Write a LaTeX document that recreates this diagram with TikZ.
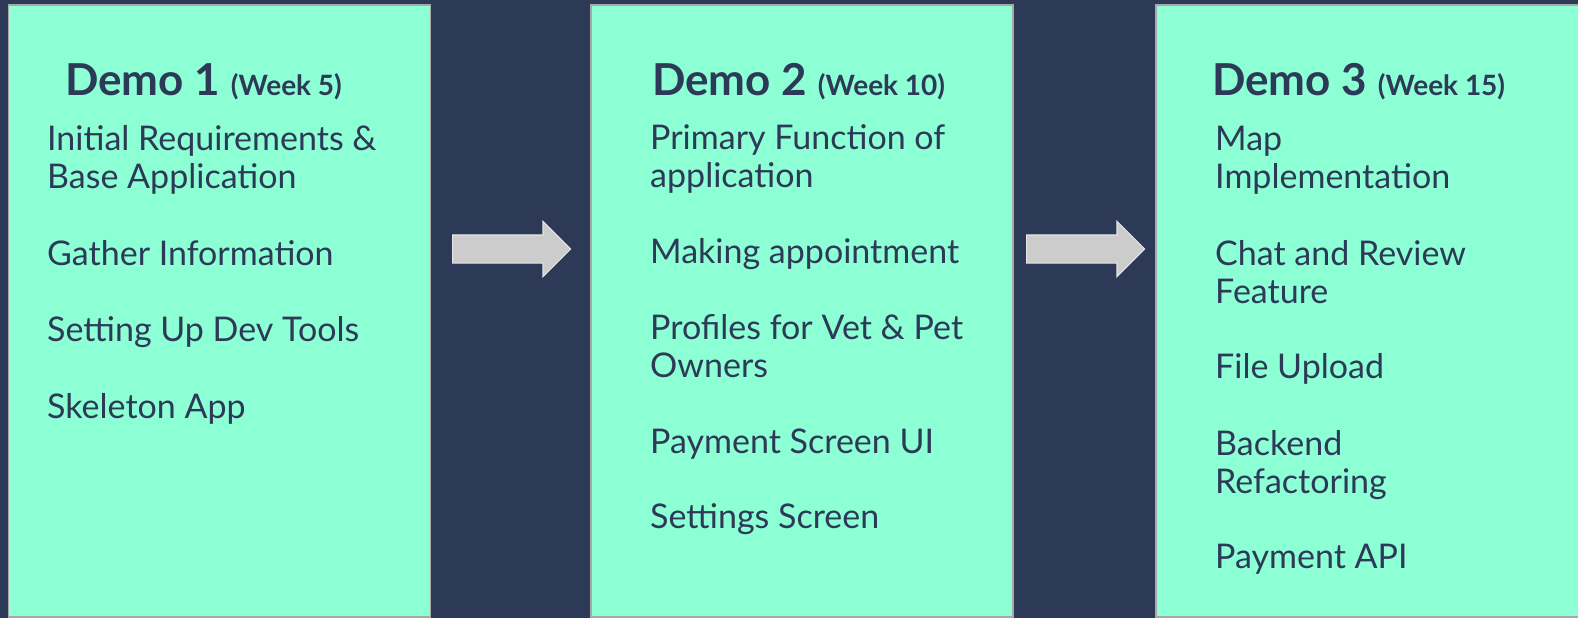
\documentclass[tikz,border=0pt]{standalone}
\usepackage{fontspec}
\setmainfont{Lato}
\usetikzlibrary{shapes.arrows}
\definecolor{navy}{HTML}{2C3A58}
\definecolor{mint}{HTML}{8DFFD4}
\definecolor{rim}{HTML}{A8A8A8}
\definecolor{arrowgray}{HTML}{CCCCCC}
\definecolor{arrowrim}{HTML}{E4E4E4}
\newcommand{\weekfont}{\fontsize{28}{28}\selectfont\bfseries}
\begin{document}
\begin{tikzpicture}[
	x=1pt,
	y=-1pt,
	demobox/.style={draw=rim, line width=1.5pt, fill=mint, minimum width=422pt, minimum height=612pt, inner sep=0pt},
	head/.style={anchor=base west, inner sep=0pt, text=navy, font=\fontsize{44}{44}\selectfont\bfseries},
	item/.style={anchor=base west, inner sep=0pt, text=navy, align=left, font=\fontsize{34}{38}\selectfont},
	stepper/.style={single arrow, anchor=tail, draw=arrowrim, fill=arrowgray, line width=1.2pt, inner sep=13.5pt, single arrow head extend=13.5pt, minimum height=118pt}
	]
	\fill[navy] (0,0) rectangle (1578,618);
	\useasboundingbox (0,0) rectangle (1578,618);
	% the three demos
	\node[demobox] (demo1) at (219.5,311) {};
	\node[demobox] (demo2) at (802,311) {};
	\node[demobox, minimum width=450pt] (demo3) at (1381,311) {};
	\node[stepper] (arr1) at (452,249) {};
	\node[stepper] (arr2) at (1026,249) {};
	% demo 1
	\node[head] (h1) at (65,95) {Demo 1 {\weekfont (Week 5)}};
	\node[item] (a1) at (47,188) {Initial Requirements \&\\Base Application};
	\node[item] (a2) at (47,265) {Gather Information};
	\node[item] (a3) at (47,341) {Setting Up Dev Tools};
	\node[item] (a4) at (47,418) {Skeleton App};
	% demo 2
	\node[head] (h2) at (652,95) {Demo 2 {\weekfont (Week 10)}};
	\node[item] (b1) at (650,187) {Primary Function of\\application};
	\node[item] (b2) at (650,263) {Making appointment};
	\node[item] (b3) at (650,377) {Profiles for Vet \& Pet\\Owners};
	\node[item] (b4) at (650,453) {Payment Screen UI};
	\node[item] (b5) at (650,528) {Settings Screen};
	% demo 3
	\node[head] (h3) at (1212,95) {Demo 3 {\weekfont (Week 15)}};
	\node[item] (c1) at (1215,188) {Map\\Implementation};
	\node[item] (c2) at (1215,303) {Chat and Review\\Feature};
	\node[item] (c3) at (1215,378) {File Upload};
	\node[item] (c4) at (1215,493) {Backend\\Refactoring};
	\node[item] (c5) at (1215,568) {Payment API};
\end{tikzpicture}
\end{document}
